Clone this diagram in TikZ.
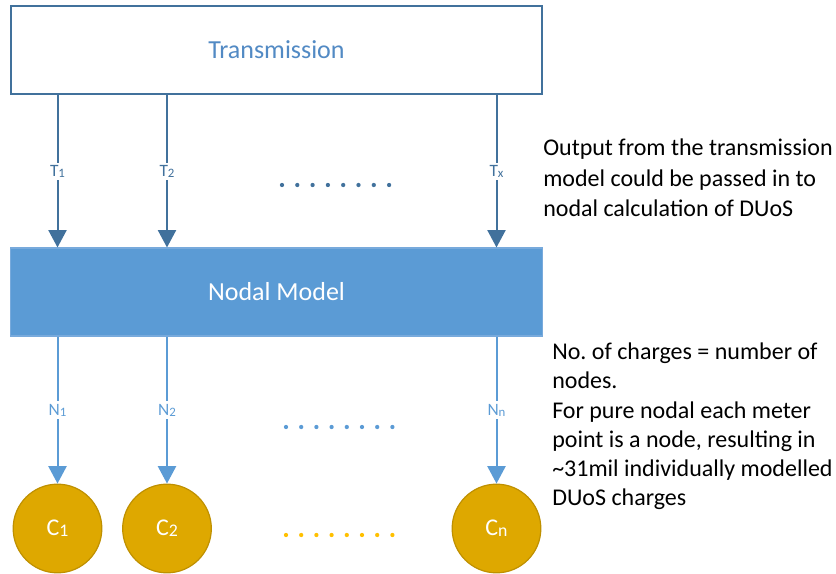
\documentclass[tikz,border=0pt]{standalone}
\usepackage{fontspec}
\setmainfont{Carlito}
\usetikzlibrary{arrows.meta,positioning}
\definecolor{steel1}{RGB}{65,113,156}
\definecolor{blue1}{RGB}{91,155,213}
\definecolor{edge1}{RGB}{120,170,220}
\definecolor{gold1}{RGB}{222,168,0}
\definecolor{gold2}{RGB}{191,144,0}
\definecolor{amber1}{RGB}{255,192,0}
\definecolor{title1}{RGB}{82,138,196}
\newcommand{\idx}[1]{\raisebox{-0.12ex}{\scalebox{0.74}{#1}}}
\frenchspacing
\tikzset{
  layerbox/.style={minimum width=398.6pt, minimum height=66pt, inner sep=0pt},
  charge/.style={circle, fill=gold1, draw=gold2, line width=0.9pt, minimum size=66.5pt, inner sep=0pt,
    text=white, font=\fontsize{18}{20}\selectfont},
  toplink/.style={draw=steel1, line width=1.5pt, -{Triangle[width=13.5pt,length=13pt]}},
  lowlink/.style={draw=blue1, line width=1.5pt, -{Triangle[width=13.5pt,length=13pt]}},
  linklabel/.style={fill=white, inner sep=2pt, font=\fontsize{13}{15}\selectfont},
  note/.style={anchor=north west, align=left, inner sep=0pt, text=black}
}
\begin{document}
\begin{tikzpicture}[x=0.75pt, y=-0.75pt]
\useasboundingbox (0,0) rectangle (836,574);
\node[layerbox, draw=steel1, line width=1.5pt, fill=white, text=title1, font=\fontsize{19.5}{21}\selectfont] (trans) at (276.5,50) {Transmission};
\node[layerbox, fill=blue1, draw=edge1, line width=0.8pt, text=white, font=\fontsize{19.5}{21}\selectfont] (nodal) at (276.5,292) {Nodal Model};
\node[charge] (c1) at (57.5,528.5) {C\idx{1}};
\node[charge] (c2) at (167,528.5) {C\idx{2}};
\node[charge] (cn) at (496.5,528.5) {C\idx{n}};
\draw[toplink] (trans.south -| c1) -- node[linklabel, text=steel1] {T\idx{1}} (nodal.north -| c1);
\draw[toplink] (trans.south -| c2) -- node[linklabel, text=steel1] {T\idx{2}} (nodal.north -| c2);
\draw[toplink] (trans.south -| cn) -- node[linklabel, text=steel1] {T\idx{x}} (nodal.north -| cn);
\draw[lowlink] (nodal.south -| c1) -- node[linklabel, text=blue1] {N\idx{1}} (c1.north);
\draw[lowlink] (nodal.south -| c2) -- node[linklabel, text=blue1] {N\idx{2}} (c2.north);
\draw[lowlink] (nodal.south -| cn) -- node[linklabel, text=blue1] {N\idx{n}} (cn.north);
\foreach \i in {0,...,7} {
  \fill[steel1] (282+\i*15.3,185) circle (1.6pt);
  \fill[blue1] (286+\i*15.2,427) circle (1.6pt);
  \fill[amber1] (286+\i*15.2,535) circle (1.6pt);
}
\node[note, font=\fontsize{18}{22.9}\selectfont] (out) at (543,139) {Output from the transmission\\model could be passed in to\\nodal calculation of DUoS};
\node[note, font=\fontsize{18}{21.8}\selectfont] (count) at (552,343) {No. of charges = number of\\nodes.\\For pure nodal each meter\\point is a node, resulting in\\\textasciitilde31mil individually modelled\\DUoS charges};
\end{tikzpicture}
\end{document}
